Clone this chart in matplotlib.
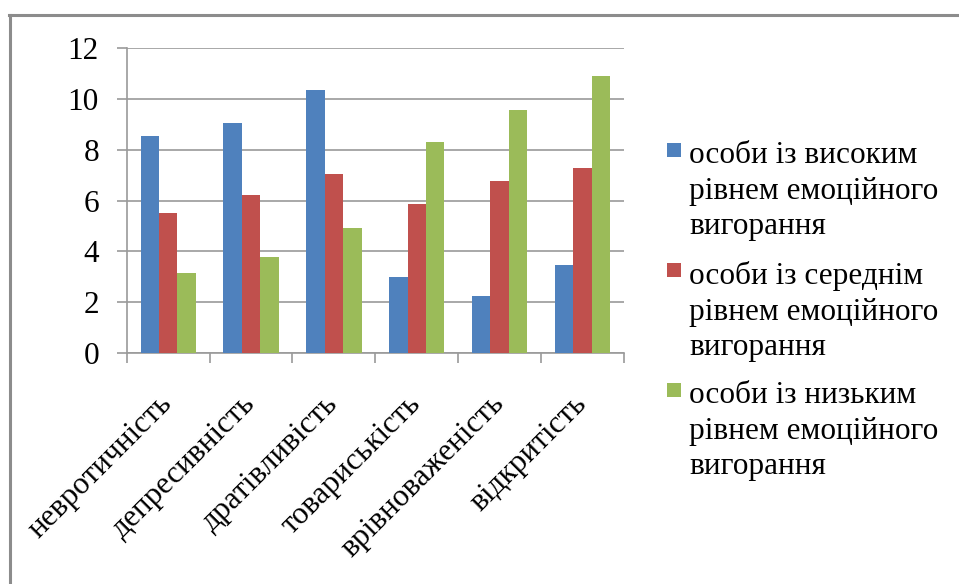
import numpy as np
import matplotlib
matplotlib.use("Agg")
import matplotlib.pyplot as plt
from matplotlib.lines import Line2D
from matplotlib.patches import Rectangle

plt.rcParams["font.family"] = ["Liberation Serif", "DejaVu Serif"]

categories = ["невротичність", "депресивність", "дратівливість",
              "товариськість", "врівноваженість", "відкритість"]
high = [8.53, 9.03, 10.35, 2.98, 2.24, 3.45]
medium = [5.52, 6.23, 7.03, 5.87, 6.78, 7.29]
low = [3.14, 3.79, 4.91, 8.28, 9.54, 10.9]
series_names = ["особи із високим\nрівнем емоційного\nвигорання",
                "особи із середнім\nрівнем емоційного\nвигорання",
                "особи із низьким\nрівнем емоційного\nвигорання"]
colors = ["#4F81BD", "#C0504D", "#9BBB59"]
axis_gray = "#9a9a9a"
FS = 22.5

W, H = 959, 584
fig = plt.figure(figsize=(W / 100, H / 100), dpi=100)
ax = fig.add_axes([0.1321, 0.395, 0.5186, 0.5233])

x = np.arange(len(categories))
width = 0.222
for i, (vals, col) in enumerate(zip([high, medium, low], colors)):
    ax.bar(x + (i - 1) * width, vals, width, color=col, zorder=3)

ax.set_ylim(0, 12)
ax.set_yticks(range(0, 13, 2))
ax.set_xlim(-0.5, len(categories) - 0.5)
ax.yaxis.grid(True, color=axis_gray, linewidth=1.2, zorder=0)

for side in ["top", "right"]:
    ax.spines[side].set_visible(False)
for side in ["left", "bottom"]:
    ax.spines[side].set_color(axis_gray)
    ax.spines[side].set_linewidth(1.2)

ax.tick_params(axis="y", direction="out", length=7, width=1.2, color=axis_gray,
               pad=13, labelsize=FS)
ax.set_xticks(x)
ax.set_xticklabels(categories, rotation=45, ha="right", va="center",
                   rotation_mode="anchor", fontsize=FS)
ax.tick_params(axis="x", which="major", length=0, pad=33)
ax.set_xticks(np.arange(-0.5, len(categories), 1.0), minor=True)
ax.tick_params(axis="x", which="minor", direction="out", length=7, width=1.2,
               color=axis_gray)

# legend: colour square next to the first line of each wrapped label
entry_tops = [141, 261, 381]
for name, col, top in zip(series_names, colors, entry_tops):
    sq = 14
    cy = top + 9
    fig.add_artist(Rectangle((667 / W, (H - cy - sq / 2) / H), sq / W, sq / H,
                             transform=fig.transFigure, facecolor=col,
                             edgecolor="none"))
    fig.text(689 / W, (H - top) / H, name, ha="left", va="top",
             fontsize=FS, linespacing=1.3)

# outer frame: top and left edges only
fig.add_artist(Line2D([0.0094, 1.0], [0.974, 0.974], transform=fig.transFigure,
                      color="#8c8c8c", linewidth=2.2))
fig.add_artist(Line2D([0.0105, 0.0105], [0.0, 0.975], transform=fig.transFigure,
                      color="#8c8c8c", linewidth=2.2))

fig.savefig("out.png", dpi=100)
